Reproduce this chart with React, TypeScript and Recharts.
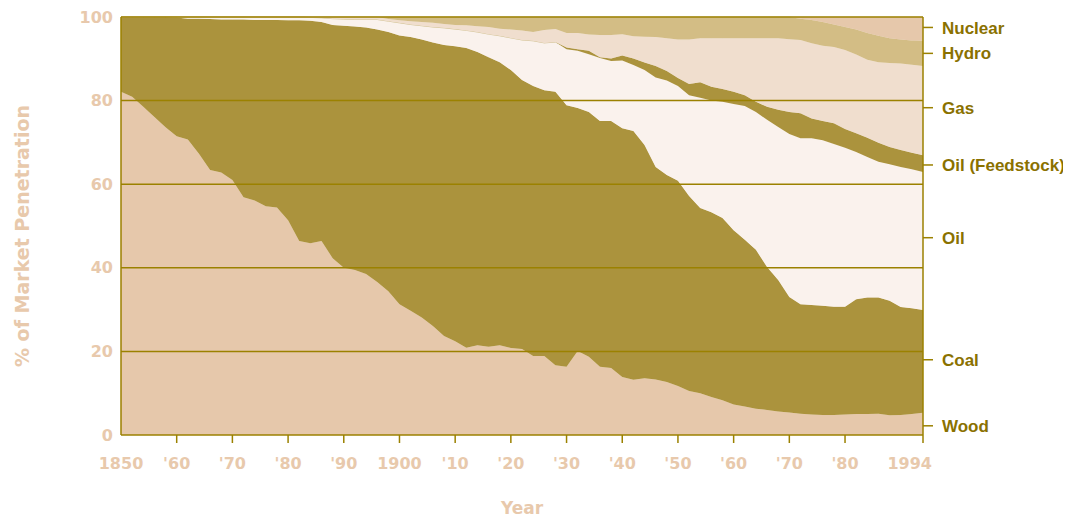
import React from 'react';
import { ComposedChart, Area, Line, XAxis, YAxis, ReferenceLine } from 'recharts';

const years = [
  1850, 1852, 1854, 1856, 1858, 1860, 1862, 1864, 1866, 1868,
  1870, 1872, 1874, 1876, 1878, 1880, 1882, 1884, 1886, 1888,
  1890, 1892, 1894, 1896, 1898, 1900, 1902, 1904, 1906, 1908,
  1910, 1912, 1914, 1916, 1918, 1920, 1922, 1924, 1926, 1928,
  1930, 1932, 1934, 1936, 1938, 1940, 1942, 1944, 1946, 1948,
  1950, 1952, 1954, 1956, 1958, 1960, 1962, 1964, 1966, 1968,
  1970, 1972, 1974, 1976, 1978, 1980, 1982, 1984, 1986, 1988,
  1990, 1992, 1994,
];

const wood = [
  82.1, 80.9, 78.5, 76.1, 73.6, 71.5, 70.7, 67.3, 63.4, 62.8,
  61.0, 56.9, 56.1, 54.7, 54.4, 51.4, 46.4, 45.9, 46.4, 42.3,
  40.0, 39.5, 38.5, 36.6, 34.4, 31.3, 29.7, 28.1, 26.1, 23.7,
  22.4, 20.9, 21.5, 21.1, 21.5, 20.8, 20.6, 18.9, 18.9, 16.7,
  16.3, 20.1, 18.7, 16.3, 16.0, 13.9, 13.2, 13.6, 13.3, 12.7,
  11.7, 10.5, 10.0, 9.1, 8.3, 7.3, 6.8, 6.3, 6.0, 5.6,
  5.4, 5.1, 4.9, 4.8, 4.8, 4.9, 5.0, 5.0, 5.1, 4.7,
  4.8, 5.0, 5.3,
];

const coal = [
  17.9, 19.1, 21.5, 23.9, 26.4, 28.4, 28.9, 32.3, 36.1, 36.6,
  38.4, 42.5, 43.2, 44.6, 44.9, 47.8, 52.8, 53.2, 52.4, 55.8,
  57.9, 58.2, 59.0, 60.4, 62.0, 64.3, 65.5, 66.5, 67.8, 69.6,
  70.6, 71.7, 70.1, 69.3, 67.7, 66.5, 64.3, 64.6, 63.6, 65.4,
  62.6, 58.1, 58.6, 58.8, 59.1, 59.5, 59.5, 55.8, 50.8, 49.5,
  49.1, 46.7, 44.3, 44.2, 43.6, 41.7, 39.9, 38.0, 34.2, 31.5,
  27.6, 26.2, 26.2, 26.1, 25.9, 25.8, 27.5, 27.9, 27.8, 27.4,
  25.8, 25.3, 24.6,
];

const oil = [
  0, 0, 0, 0, 0, 0.1, 0.4, 0.4, 0.5, 0.6,
  0.6, 0.6, 0.7, 0.7, 0.7, 0.8, 0.8, 0.8, 1.0, 1.5,
  1.6, 1.7, 1.9, 2.4, 2.6, 3.0, 3.0, 3.3, 3.7, 4.1,
  4.1, 4.2, 4.8, 5.5, 6.3, 7.7, 9.6, 10.8, 11.3, 11.9,
  13.4, 13.7, 13.8, 15.1, 14.4, 16.2, 15.8, 17.9, 21.4, 22.6,
  22.7, 24.1, 26.4, 26.7, 27.8, 30.2, 32.0, 33.0, 35.2, 36.6,
  39.0, 39.7, 39.9, 39.6, 38.9, 38.0, 35.2, 33.6, 32.5, 32.7,
  33.5, 33.3, 33.0,
];

const feedstock = [
  0, 0, 0, 0, 0, 0, 0, 0, 0, 0,
  0, 0, 0, 0, 0, 0, 0, 0, 0, 0,
  0, 0, 0, 0, 0, 0, 0, 0, 0, 0,
  0, 0, 0, 0, 0, 0, 0, 0, 0, 0,
  0.4, 0.4, 0.8, 0.2, 0.6, 1.2, 1.6, 1.8, 2.8, 2.3,
  1.9, 2.7, 3.7, 3.3, 3.1, 2.9, 2.6, 2.4, 3.1, 4.1,
  5.3, 6.0, 4.7, 4.6, 5.0, 4.5, 4.5, 4.6, 4.5, 4.1,
  4.1, 3.9, 4.0,
];

const gas = [
  0, 0, 0, 0, 0, 0, 0, 0, 0, 0,
  0, 0, 0, 0, 0, 0, 0, 0.1, 0.2, 0.4,
  0.5, 0.6, 0.6, 0.6, 0.5, 0.6, 0.8, 0.9, 1.0, 0.9,
  1.0, 1.2, 1.4, 1.7, 1.7, 2.0, 2.3, 2.1, 3.1, 3.1,
  3.5, 3.9, 3.9, 5.3, 5.6, 5.1, 5.3, 6.2, 6.9, 7.8,
  9.2, 10.6, 10.5, 11.6, 12.1, 12.8, 13.6, 15.2, 16.4, 17.1,
  17.4, 17.5, 18.0, 18.0, 18.2, 18.9, 18.8, 18.7, 19.3, 20.1,
  20.7, 21.1, 21.4,
];

const hydro = [
  0, 0, 0, 0, 0, 0, 0, 0, 0, 0,
  0, 0, 0, 0, 0, 0, 0, 0, 0, 0,
  0, 0, 0, 0, 0.5, 0.8, 1.0, 1.2, 1.4, 1.7,
  1.9, 2.0, 2.2, 2.4, 2.8, 3.0, 3.2, 3.6, 3.1, 2.9,
  3.8, 3.8, 4.2, 4.3, 4.3, 4.1, 4.6, 4.7, 4.8, 5.1,
  5.4, 5.4, 5.1, 5.1, 5.1, 5.1, 5.1, 5.1, 5.1, 5.1,
  5.3, 5.1, 5.6, 5.7, 5.4, 5.5, 6.0, 6.4, 6.3, 5.9,
  5.7, 5.8, 6.0,
];

const nuclear = [
  0, 0, 0, 0, 0, 0, 0, 0, 0, 0,
  0, 0, 0, 0, 0, 0, 0, 0, 0, 0,
  0, 0, 0, 0, 0, 0, 0, 0, 0, 0,
  0, 0, 0, 0, 0, 0, 0, 0, 0, 0,
  0, 0, 0, 0, 0, 0, 0, 0, 0, 0,
  0, 0, 0, 0, 0, 0, 0, 0, 0, 0,
  0, 0.4, 0.7, 1.2, 1.8, 2.4, 3.0, 3.8, 4.5, 5.1,
  5.4, 5.6, 5.7,
];

const xTicks = [1850, 1860, 1870, 1880, 1890, 1900, 1910, 1920, 1930, 1940, 1950, 1960, 1970, 1980, 1994];
const xTickLabels = ['1850', "'60", "'70", "'80", "'90", '1900', "'10", "'20", "'30", "'40", "'50", "'60", "'70", "'80", '1994'];
const leftTicks = [0, 20, 40, 60, 80, 100];
const gridValues = [20, 40, 60, 80, 100];
const rightTickValues = [97.5, 91.3, 78.3, 64.6, 47.2, 18.0, 2.2];
const rightTickLabels = ['Nuclear', 'Hydro', 'Gas', 'Oil (Feedstock)', 'Oil', 'Coal', 'Wood'];

const seriesKeys = ['wood', 'coal', 'oil', 'feedstock', 'gas', 'hydro', 'nuclear'];
const seriesColors = ['#e6c8ab', '#ab933d', '#faf2ed', '#ab933d', '#f0dece', '#d3bd85', '#e6c8ab'];

const rows = years.map((year, i) => ({
  year,
  wood: wood[i],
  coal: coal[i],
  oil: oil[i],
  feedstock: feedstock[i],
  gas: gas[i],
  hydro: hydro[i],
  nuclear: nuclear[i],
}));

const OLIVE = '#9b8100';
const TAN = '#e8c9ac';
const DARK = '#8a7100';

const XTick = (props: any) => {
  const { x, y, payload } = props;
  const i = xTicks.indexOf(payload.value);
  const isLast = i === xTicks.length - 1;
  return (
    <g>
      {i > 0 && <line x1={x} x2={x} y1={y} y2={y + 8} stroke={OLIVE} strokeWidth={1.5} />}
      <text
        x={isLast ? x + 9 : x}
        y={y + 34}
        textAnchor={isLast ? 'end' : 'middle'}
        fill={TAN}
        fontSize={16}
        fontWeight="bold"
        fontFamily="DejaVu Sans"
      >
        {xTickLabels[i]}
      </text>
    </g>
  );
};

const RightTick = (props: any) => {
  const { x, y, payload } = props;
  const i = rightTickValues.indexOf(payload.value);
  return (
    <g>
      <line x1={x} x2={x + 10} y1={y} y2={y} stroke={OLIVE} strokeWidth={1.5} />
      <text
        x={x + 19}
        y={y}
        dy="0.36em"
        textAnchor="start"
        fill={DARK}
        fontSize={17}
        fontWeight="bold"
        fontFamily="Liberation Sans"
      >
        {rightTickLabels[i]}
      </text>
    </g>
  );
};

const YearLabel = (props: any) => {
  const vb = props.viewBox || { x: 113, y: 427, width: 802, height: 84 };
  return (
    <text
      x={vb.x + vb.width / 2}
      y={vb.y + 79}
      textAnchor="middle"
      fill={TAN}
      fontSize={17}
      fontWeight="bold"
      fontFamily="DejaVu Sans"
    >
      Year
    </text>
  );
};

const YLabel = (props: any) => {
  const vb = props.viewBox || { x: 0, y: 9, width: 113, height: 418 };
  const cx = vb.x + 21;
  const cy = vb.y + vb.height / 2 + 10;
  return (
    <text
      x={cx}
      y={cy}
      transform={`rotate(-90 ${cx} ${cy})`}
      textAnchor="middle"
      fill={TAN}
      fontSize={19}
      fontWeight="bold"
      fontFamily="DejaVu Sans"
    >
      % of Market Penetration
    </text>
  );
};

export default function App() {
  return (
    <div style={{ width: 1063, height: 511 }}>
      <ComposedChart width={1063} height={511} data={rows} margin={{ top: 9, right: 0, bottom: 0, left: 0 }}>
        <XAxis
          dataKey="year"
          type="number"
          domain={[1850, 1994]}
          ticks={xTicks}
          interval={0}
          height={84}
          tickLine={false}
          tickSize={0}
          tickMargin={0}
          tick={<XTick />}
          axisLine={{ stroke: OLIVE, strokeWidth: 1.5 }}
          label={{ content: <YearLabel /> }}
        />
        <YAxis
          yAxisId="left"
          orientation="left"
          width={113}
          domain={[0, 100]}
          ticks={leftTicks}
          interval={0}
          tickLine={false}
          tickSize={0}
          tickMargin={8}
          tick={{ fill: TAN, fontSize: 16, fontWeight: 'bold', fontFamily: 'DejaVu Sans' }}
          axisLine={{ stroke: OLIVE, strokeWidth: 1.5 }}
          label={{ content: <YLabel /> }}
        />
        <YAxis
          yAxisId="right"
          orientation="right"
          type="number"
          width={148}
          domain={[0, 100]}
          allowDataOverflow
          ticks={rightTickValues}
          interval={0}
          tickLine={false}
          tickSize={0}
          tickMargin={0}
          tick={<RightTick />}
          axisLine={{ stroke: OLIVE, strokeWidth: 1.5 }}
        />
        {seriesKeys.map((k, i) => (
          <Area
            key={k}
            yAxisId="left"
            type="linear"
            dataKey={k}
            stackId="1"
            stroke={seriesColors[i]}
            strokeWidth={0.5}
            fill={seriesColors[i]}
            fillOpacity={1}
            isAnimationActive={false}
          />
        ))}
        <Line
          yAxisId="right"
          dataKey="wood"
          stroke="none"
          strokeWidth={0}
          dot={false}
          activeDot={false}
          legendType="none"
          isAnimationActive={false}
        />
        {gridValues.map((v) => (
          <ReferenceLine key={v} yAxisId="left" y={v} stroke={OLIVE} strokeWidth={1.5} />
        ))}
      </ComposedChart>
    </div>
  );
}
